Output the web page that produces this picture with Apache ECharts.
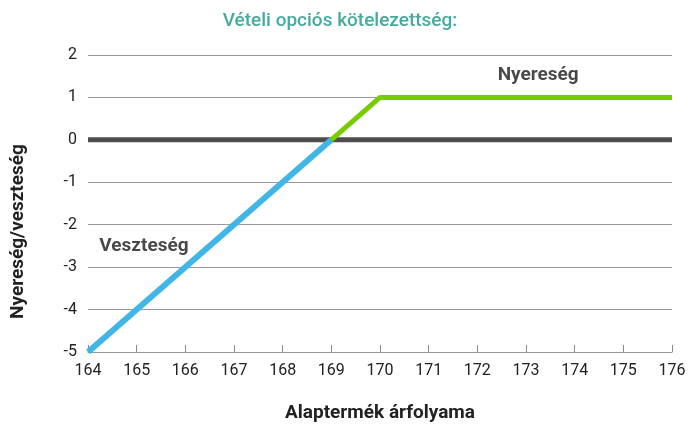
<!DOCTYPE html>
<html><head><meta charset="utf-8">
<script src="https://cdn.jsdelivr.net/npm/echarts@6/dist/echarts.min.js"></script>
<style>html,body{margin:0;padding:0;background:#fff}#c{width:689px;height:428px}</style>
</head><body><div id="c"></div>
<script>
const titleText = 'Vételi opciós kötelezettség:';
const xName = 'Alaptermék árfolyama';
const yName = 'Nyereség/veszteség';
const lossPoints = [[164, -5], [169, 0]];
const profitPoints = [[169, 0], [170, 1], [176, 1]];
const zeroLine = [[164, 0], [176, 0]];
const annotations = [
  { name: 'Nyereség', value: [173.25, 1.53] },
  { name: 'Veszteség', value: [165.15, -2.5] }
];
const FONT = 'Roboto';
const chart = echarts.init(document.getElementById('c'));
chart.setOption({
  animation: false,
  title: { text: titleText, left: 335, top: 7, textAlign: 'center',
    textStyle: { color: '#45ab9c', fontSize: 19, fontWeight: 500, fontFamily: FONT } },
  grid: { left: 88, right: 17, top: 55, bottom: 75 },
  xAxis: { type: 'value', min: 164, max: 176, interval: 1,
    name: xName, nameLocation: 'middle', nameGap: 52,
    nameTextStyle: { fontSize: 19, fontWeight: 'bold', color: '#222', fontFamily: FONT },
    axisLine: { onZero: false, lineStyle: { color: '#999', width: 1 } },
    axisTick: { inside: true, length: 7, lineStyle: { color: '#888' } },
    axisLabel: { fontSize: 16, color: '#222', margin: 11, fontFamily: FONT },
    splitLine: { show: false } },
  yAxis: { type: 'value', min: -5, max: 2, interval: 1,
    name: yName, nameLocation: 'middle', nameGap: 60, nameRotate: 90,
    nameTextStyle: { fontSize: 19, fontWeight: 'bold', color: '#222', fontFamily: FONT,
      padding: [0, 56, 0, 0] },
    axisLine: { show: false }, axisTick: { show: false },
    axisLabel: { fontSize: 16, color: '#222', margin: 11, fontFamily: FONT },
    splitLine: { lineStyle: { color: '#999', width: 1 } } },
  series: [
    { type: 'line', data: zeroLine, symbol: 'none', z: 2,
      lineStyle: { color: '#4d4d4d', width: 5 } },
    { type: 'line', data: lossPoints, symbol: 'none', z: 3,
      lineStyle: { color: '#41b6e6', width: 6, cap: 'butt' } },
    { type: 'line', data: profitPoints, symbol: 'none', z: 3,
      lineStyle: { color: '#77cc00', width: 5 } },
    { type: 'scatter', data: annotations, symbolSize: 0, z: 4,
      label: { show: true, position: 'inside', formatter: p => p.name,
        fontSize: 19, fontWeight: 'bold', color: '#1a1a1a', fontFamily: FONT } }
  ]
});
</script></body></html>
